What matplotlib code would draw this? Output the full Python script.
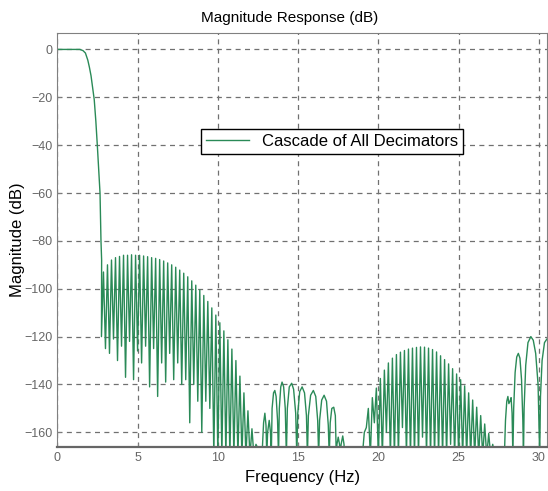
import numpy as np
import matplotlib.pyplot as plt

plt.rcParams['font.family'] = ['Liberation Sans', 'DejaVu Sans']

# passband + transition (Hz, dB)
pass_f = [0, 0.5, 1.0, 1.4, 1.6, 1.75, 1.9, 2.0, 2.1, 2.2, 2.3, 2.4, 2.5, 2.6, 2.66, 2.72, 2.76]
pass_db = [0, 0, 0, 0, -0.5, -1.5, -4.5, -7.5, -11, -16, -21, -30, -41, -53, -60, -80, -88]

# first stopband lobe: nulls on 0.25 Hz grid starting 2.75 Hz, peaks between
lobe1_null = [-120, -125, -127, -121, -130, -124, -137, -122, -138, -126,
              -131, -124, -141, -125, -145, -131, -139, -127, -138, -131,
              -140, -138, -156, -140, -147, -160, -147, -150, -170, -170,
              -170, -170, -170, -170, -170, -170, -170, -170, -170]
lobe1_peak = [-93, -90, -88, -87, -86.5, -86, -86, -85.8, -86, -86,
              -86.3, -86.6, -87, -87.3, -87.8, -88.4, -89.2, -90, -91, -92.2,
              -93.5, -95, -96.7, -98.5, -100.5, -102.8, -105.3, -108, -111, -114.2,
              -117.6, -121.3, -125.2, -130, -136.5, -143.5, -151, -158.5, -165]

# second region, rounded lobes (Hz, dB)
lobe2_f = [12.75, 12.85, 12.93, 13.0, 13.05, 13.1, 13.2, 13.28, 13.33,
           13.38, 13.47, 13.55, 13.63, 13.72, 13.78,
           13.83, 13.92, 14.0, 14.1, 14.2, 14.27,
           14.33, 14.45, 14.6, 14.72, 14.85, 14.92,
           14.98, 15.1, 15.25, 15.4, 15.52, 15.58,
           15.64, 15.78, 15.95, 16.1, 16.22, 16.28,
           16.34, 16.47, 16.62, 16.77, 16.88, 16.94,
           17.0, 17.1, 17.22, 17.32, 17.38,
           17.42, 17.5, 17.58, 17.62,
           17.68, 17.78, 17.86, 17.9, 18.7]
lobe2_db = [-170, -156, -152, -157, -170, -160, -155, -160, -170,
            -150, -143.5, -142.5, -145, -155, -170,
            -150, -141, -139, -141, -150, -170,
            -150, -141, -139.5, -142, -152, -170,
            -152, -143, -141, -143.5, -153, -170,
            -153, -144.5, -142.5, -145, -155, -170,
            -155, -146.5, -144.5, -147, -157, -170,
            -156, -150, -149.5, -153, -170,
            -165, -162, -165, -170,
            -165, -161.5, -165, -170, -170]

# third lobe: nulls on 0.25 Hz grid from 18.75 Hz
lobe3_null = [-170, -170, -158, -170, -156, -170, -170, -160, -170, -170,
              -170, -158, -170, -170, -170, -170, -162, -170, -170, -170,
              -170, -170, -170, -165, -170, -170, -170, -170, -170, -170,
              -170, -170, -170, -170]
lobe3_peak = [-166, -160, -150, -145.5, -141.5, -137.5, -134, -131, -129, -127.5,
              -126.5, -125.8, -125.2, -124.8, -124.5, -124.3, -124.4, -124.8, -125.4, -126.4,
              -128, -129.6, -131.4, -133.4, -135.6, -138, -140.6, -143.5, -146.5, -149.5,
              -153, -156.5, -160.5, -165]

# last lobes near Nyquist (Hz, dB)
lobe4_f = [27.85, 27.92, 28.0, 28.07, 28.13, 28.2, 28.27, 28.33, 28.38,
           28.43, 28.52, 28.62, 28.72, 28.82, 28.92, 29.0, 29.04,
           29.08, 29.18, 29.32, 29.5, 29.65, 29.8, 29.95, 30.05,
           30.1, 30.2, 30.35, 30.5, 30.7]
lobe4_db = [-170, -155, -147, -145, -148, -147, -145.5, -152, -170,
            -150, -135, -128.5, -127, -129, -138, -155, -170,
            -150, -132, -122.5, -120, -121.5, -127, -140, -170,
            -145, -130, -122.5, -121, -120]


def grid_lobes(f0, nulls, peaks):
    f, d = [], []
    for i in range(len(peaks)):
        f += [f0 + 0.25 * i, f0 + 0.25 * i + 0.125]
        d += [nulls[i], peaks[i]]
    return f, d


f1, d1 = grid_lobes(2.75, lobe1_null, lobe1_peak)
f3, d3 = grid_lobes(18.75, lobe3_null, lobe3_peak)

freq = np.array(pass_f + f1 + lobe2_f + f3 + [27.25] + lobe4_f)
mag = np.array(pass_db + d1 + lobe2_db + d3 + [-170] + lobe4_db)

fig = plt.figure(figsize=(5.48, 4.91), dpi=100)
ax = fig.add_axes([0.1046, 0.0902, 0.8934, 0.8418])
ax.plot(freq, mag, color='#2a8a57', lw=1.0, label='Cascade of All Decimators')

ax.set_xlim(0, 30.5)
ax.set_ylim(-166, 6.7)
ax.set_xticks([0, 5, 10, 15, 20, 25, 30])
ax.set_yticks(range(-160, 1, 20))
ax.grid(True, color='#707070', linestyle=(0, (4, 3.5)), lw=0.9)
ax.tick_params(direction='in', length=3, colors='#808080', labelcolor='#666666', labelsize=9)
for s in ax.spines.values():
    s.set_color('#808080')
ax.spines['bottom'].set_color('#666666')
ax.spines['bottom'].set_linewidth(1.6)

ax.set_title('Magnitude Response (dB)', fontsize=11, pad=8, x=0.474)
ax.set_xlabel('Frequency (Hz)', fontsize=12)
ax.set_ylabel('Magnitude (dB)', fontsize=12)
ax.xaxis.set_label_coords(0.5, -0.057)
ax.yaxis.set_label_coords(-0.066, 0.5)

leg = ax.legend(loc='center', bbox_to_anchor=(0.561, 0.739), fontsize=12,
                fancybox=False, framealpha=1, edgecolor='black',
                handlelength=2.6, borderpad=0.3)
leg.get_frame().set_linewidth(1.0)

fig.savefig('out.png', dpi=100)
